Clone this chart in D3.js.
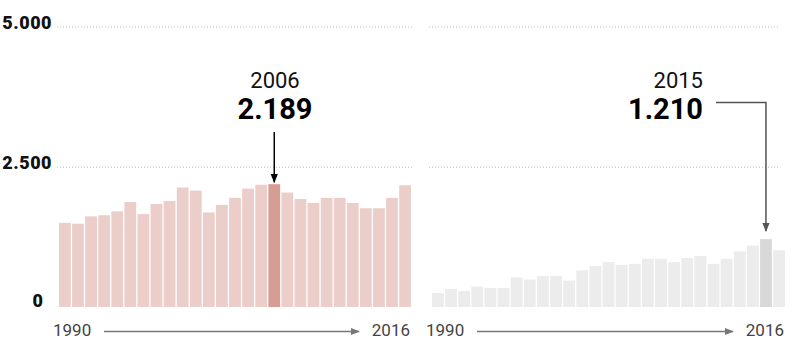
<!DOCTYPE html>
<html>
<head>
<meta charset="utf-8">
<script src="https://cdn.jsdelivr.net/npm/d3@7"></script>
<style>
  html, body { margin: 0; padding: 0; background: #fff; }
  svg { display: block; font-family: Roboto, "Noto Sans", sans-serif; }
</style>
</head>
<body>
<svg id="chart" width="800" height="355"></svg>
<script>
const years = [1990,1991,1992,1993,1994,1995,1996,1997,1998,1999,2000,2001,2002,2003,2004,2005,2006,2007,2008,2009,2010,2011,2012,2013,2014,2015,2016];
const leftValues = [1500,1485,1615,1635,1705,1870,1655,1835,1890,2130,2075,1685,1820,1945,2110,2180,2189,2040,1925,1855,1945,1945,1855,1760,1760,1945,2170];
const rightValues = [250,320,285,365,340,340,530,490,550,550,470,655,730,800,750,770,860,860,800,875,910,770,860,990,1095,1210,1010];
const yTicks = [0, 2500, 5000];
const yTickLabels = ["0", "2.500", "5.000"];
const leftHighlight = {year: 2006, yearLabel: "2006", valueLabel: "2.189"};
const rightHighlight = {year: 2015, yearLabel: "2015", valueLabel: "1.210"};
const axisLabels = ["1990", "2016"];

const svg = d3.select("#chart");
const y = d3.scaleLinear().domain([0, 5000]).range([307, 26.5]);

const defs = svg.append("defs");
function marker(id, color) {
  defs.append("marker").attr("id", id)
    .attr("viewBox", "0 0 10 10").attr("refX", 9).attr("refY", 5)
    .attr("markerWidth", 6).attr("markerHeight", 6).attr("orient", "auto")
    .append("path").attr("d", "M0,1 L10,5 L0,9 Z").attr("fill", color);
}
marker("arrBlack", "#000");
marker("arrDark", "#555");
marker("arrGray", "#777");

// Y tick labels
svg.append("g").selectAll("text").data(yTicks).join("text")
  .attr("x", d => d === 0 ? 43 : 52)
  .attr("y", d => y(d) + (d === 0 ? 0 : 2))
  .attr("text-anchor", "end")
  .attr("font-size", 18).attr("font-weight", 900)
  .attr("letter-spacing", d => d === 0 ? 0 : 0.5)
  .attr("fill", "#111")
  .text((d, i) => yTickLabels[i]);

function panel(values, hl, x0, x1, gx0, gx1, colors) {
  const x = d3.scaleBand().domain(years).range([x0, x1]).paddingInner(0.1).paddingOuter(0);
  const g = svg.append("g");
  g.selectAll("line.grid").data(yTicks.filter(d => d > 0)).join("line")
    .attr("class", "grid")
    .attr("x1", gx0).attr("x2", gx1)
    .attr("y1", d => y(d) + 0.5).attr("y2", d => y(d) + 0.5)
    .attr("stroke", "#bdbdbd").attr("stroke-width", 1)
    .attr("stroke-dasharray", "1,2");
  g.selectAll("rect").data(values).join("rect")
    .attr("x", (d, i) => x(years[i]))
    .attr("width", x.bandwidth())
    .attr("y", d => y(d))
    .attr("height", d => y(0) - y(d))
    .attr("fill", (d, i) => years[i] === hl.year ? colors[1] : colors[0]);
  const hi = years.indexOf(hl.year);
  const cx = x(hl.year) + x.bandwidth() / 2;
  const topY = y(values[hi]);
  g.append("text").attr("x", x0 - 6).attr("y", 336).attr("font-size", 17)
    .attr("fill", "#444").text(axisLabels[0]);
  g.append("text").attr("x", x1 - 1).attr("y", 336).attr("font-size", 17)
    .attr("text-anchor", "end").attr("fill", "#444").text(axisLabels[1]);
  g.append("line").attr("x1", x0 + 45).attr("x2", x1 - 52)
    .attr("y1", 331.5).attr("y2", 331.5)
    .attr("stroke", "#777").attr("stroke-width", 1.5)
    .attr("marker-end", "url(#arrGray)");
  return {x, cx, topY, g};
}

const L = panel(leftValues, leftHighlight, 59, 411, 57, 412, ["#ebcdc9", "#d69d95"]);
L.g.append("text").attr("x", 275).attr("y", 88).attr("text-anchor", "middle")
  .attr("font-size", 22).attr("fill", "#111").text(leftHighlight.yearLabel);
L.g.append("text").attr("x", 275).attr("y", 119).attr("text-anchor", "middle")
  .attr("font-size", 29).attr("font-weight", 700).attr("fill", "#000").text(leftHighlight.valueLabel);
L.g.append("line").attr("x1", L.cx).attr("x2", L.cx)
  .attr("y1", 132).attr("y2", L.topY - 2)
  .attr("stroke", "#000").attr("stroke-width", 1.5)
  .attr("marker-end", "url(#arrBlack)");

const R = panel(rightValues, rightHighlight, 432, 785, 429, 780, ["#ececec", "#d8d8d8"]);
R.g.append("text").attr("x", 703).attr("y", 88).attr("text-anchor", "end")
  .attr("font-size", 22).attr("fill", "#111").text(rightHighlight.yearLabel);
R.g.append("text").attr("x", 703).attr("y", 119).attr("text-anchor", "end")
  .attr("font-size", 29).attr("font-weight", 700).attr("fill", "#000").text(rightHighlight.valueLabel);
R.g.append("path")
  .attr("d", `M716,102.5 H${R.cx} V${R.topY - 8}`)
  .attr("fill", "none").attr("stroke", "#555").attr("stroke-width", 1.5)
  .attr("marker-end", "url(#arrDark)");
</script>
</body>
</html>
